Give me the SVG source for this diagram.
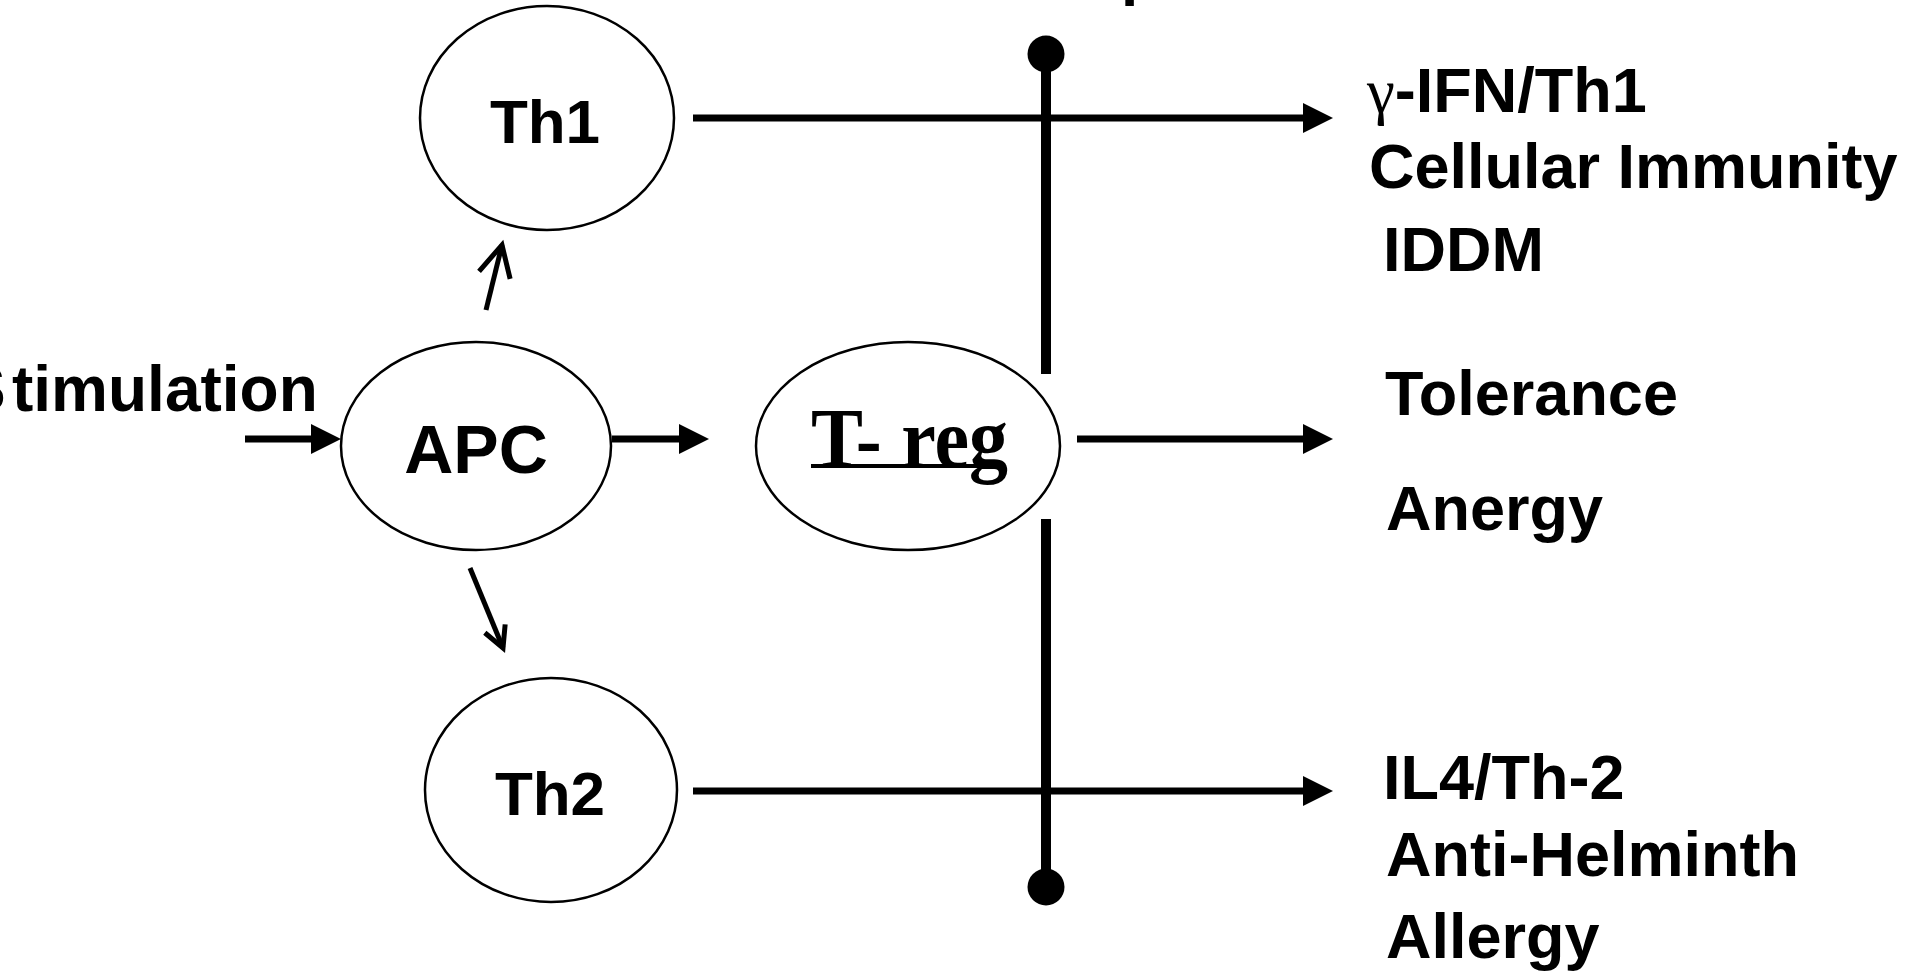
<svg xmlns="http://www.w3.org/2000/svg" width="1925" height="971" viewBox="0 0 1925 971">
<style>
.node{fill:#fff;stroke:#000;stroke-width:2.5}
.lbl{font-family:"Liberation Sans",Arial,sans-serif;font-weight:bold;fill:#000}
.out{font-family:"Liberation Sans",Arial,sans-serif;font-weight:bold;font-size:63px;fill:#000}
.conn{stroke:#000;stroke-width:7;fill:none}
.diag{stroke:#000;stroke-width:5;fill:none}
.bar{stroke:#000;stroke-width:10;fill:none}
</style>
<defs>
<marker id="tri" markerUnits="userSpaceOnUse" orient="auto" overflow="visible" refX="0" refY="0" markerWidth="30" markerHeight="30">
<path d="M0,-15 L30,0 L0,15 Z" fill="#000"/>
</marker>
<marker id="openL" markerUnits="userSpaceOnUse" orient="auto" overflow="visible" refX="0" refY="0" markerWidth="40" markerHeight="40">
<path d="M-31,-16 L0,0 L-31,16" fill="none" stroke="#000" stroke-width="5"/>
</marker>
<marker id="openS" markerUnits="userSpaceOnUse" orient="auto" overflow="visible" refX="0" refY="0" markerWidth="30" markerHeight="30">
<path d="M-21,-11 L0,0 L-21,11" fill="none" stroke="#000" stroke-width="5"/>
</marker>
</defs>
<rect x="0" y="0" width="1925" height="971" fill="#fff"/>

<text class="lbl" x="1121" y="-7" font-size="62">p</text>

<g id="connectors">
<line class="conn" x1="245" y1="439" x2="311" y2="439" marker-end="url(#tri)"/>
<line class="conn" x1="612" y1="439" x2="679" y2="439" marker-end="url(#tri)"/>
<line class="diag" x1="486" y1="310" x2="502" y2="245" marker-end="url(#openL)"/>
<line class="diag" x1="470" y1="568" x2="503" y2="648" marker-end="url(#openS)"/>
<line class="conn" x1="693" y1="118" x2="1303" y2="118" marker-end="url(#tri)"/>
<line class="conn" x1="1077" y1="439" x2="1303" y2="439" marker-end="url(#tri)"/>
<line class="conn" x1="693" y1="791" x2="1303" y2="791" marker-end="url(#tri)"/>
<line class="bar" x1="1046" y1="54" x2="1046" y2="374"/>
<line class="bar" x1="1046" y1="519" x2="1046" y2="887"/>
<circle cx="1046" cy="54" r="18.5" fill="#000"/>
<circle cx="1046" cy="887" r="18.5" fill="#000"/>
</g>

<g id="stimulation">
<text class="lbl" x="-37" y="411" font-size="64">S<tspan x="12">timulation</tspan></text>
</g>

<g id="th1">
<ellipse class="node" cx="547" cy="118" rx="127" ry="112"/>
<text class="lbl" x="545" y="143" font-size="62" text-anchor="middle">Th1</text>
</g>

<g id="apc">
<ellipse class="node" cx="476" cy="446" rx="135" ry="104"/>
<text class="lbl" x="476" y="473" font-size="68" text-anchor="middle">APC</text>
</g>

<g id="treg">
<ellipse class="node" cx="908" cy="446" rx="152" ry="104"/>
<line x1="811" y1="466" x2="1000" y2="466" stroke="#000" stroke-width="4"/>
<text x="811" y="467" font-family="'Liberation Serif','Times New Roman',serif" font-weight="bold" font-size="84" textLength="197" lengthAdjust="spacingAndGlyphs" fill="#000">T- reg</text>
</g>

<g id="th2">
<ellipse class="node" cx="551" cy="790" rx="126" ry="112"/>
<text class="lbl" x="550" y="815" font-size="62" text-anchor="middle">Th2</text>
</g>

<g id="out-th1">
<text class="out" x="1367" y="112"><tspan font-family="'Liberation Serif','Times New Roman',serif" font-weight="normal">γ</tspan>-IFN/Th1</text>
<text class="out" x="1369" y="188">Cellular Immunity</text>
<text class="out" x="1383" y="271">IDDM</text>
</g>

<g id="out-treg">
<text class="out" x="1385" y="415">Tolerance</text>
<text class="out" x="1386" y="530">Anergy</text>
</g>

<g id="out-th2">
<text class="out" x="1383" y="799">IL4/Th-2</text>
<text class="out" x="1386" y="876">Anti-Helminth</text>
<text class="out" x="1386" y="958">Allergy</text>
</g>
</svg>
